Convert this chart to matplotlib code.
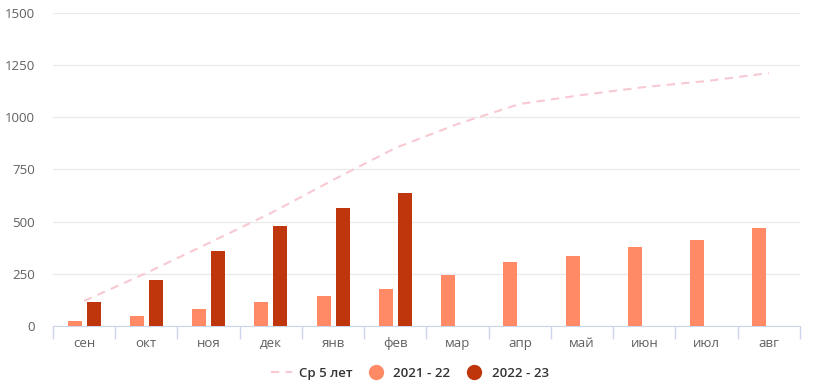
import numpy as np
import matplotlib.pyplot as plt
from matplotlib.lines import Line2D

plt.rcParams['font.family'] = ['Open Sans', 'DejaVu Sans']

months = ['сен', 'окт', 'ноя', 'дек', 'янв', 'фев', 'мар', 'апр', 'май', 'июн', 'июл', 'авг']
avg5 = [120, 254, 397, 541, 700, 853, 968, 1064, 1107, 1145, 1174, 1212]
s2122 = [24, 48, 81, 115, 144, 177, 244, 307, 336, 379, 412, 470]
s2223 = [115, 220, 359, 479, 565, 637]

c_light = '#ff8a65'
c_dark = '#bf360c'
c_line = '#f8c9d2'

fig = plt.figure(figsize=(8.2, 3.9), dpi=100)
ax = fig.add_axes([0.0646, 0.1641, 0.9110, 0.8026])

x = np.arange(len(months))
w = 0.225
ax.bar(x - 0.153, s2122, width=w, color=c_light, zorder=3)
ax.bar(x[:len(s2223)] + 0.153, s2223, width=w, color=c_dark, zorder=3)
ax.plot(x, avg5, color=c_line, lw=1.5, ls=(0, (4, 3)), zorder=4)

ax.set_xlim(-0.5, 11.5)
ax.set_ylim(0, 1500)
ax.set_yticks([0, 250, 500, 750, 1000, 1250, 1500])
ax.tick_params(axis='y', length=0, labelsize=9.5, labelcolor='#606060', pad=13)
ax.grid(axis='y', color='#ebebeb', lw=1, zorder=0)

ax.set_xticks(x)
ax.set_xticklabels(months)
ax.set_xticks(np.arange(-0.5, 12, 1), minor=True)
ax.tick_params(axis='x', which='major', length=0, labelsize=9.5, labelcolor='#606060', pad=8)
ax.tick_params(axis='x', which='minor', length=9, color='#ccd6eb', width=1)

for s in ['top', 'right', 'left']:
    ax.spines[s].set_visible(False)
ax.spines['bottom'].set_color('#ccd6eb')

handles = [
    Line2D([], [], color=c_line, lw=1.5, ls=(0, (4, 3))),
    Line2D([], [], marker='o', ls='', markersize=10, color=c_light),
    Line2D([], [], marker='o', ls='', markersize=10, color=c_dark),
]
fig.legend(handles, ['Ср 5 лет', '2021 - 22', '2022 - 23'], loc='center',
           bbox_to_anchor=(0.5, 0.043), ncol=3, frameon=False, handlelength=1.6,
           columnspacing=1.0, handletextpad=0.5,
           prop={'size': 9.5, 'weight': 'semibold'}, labelcolor='#333333')

fig.savefig('out.png', dpi=100)
